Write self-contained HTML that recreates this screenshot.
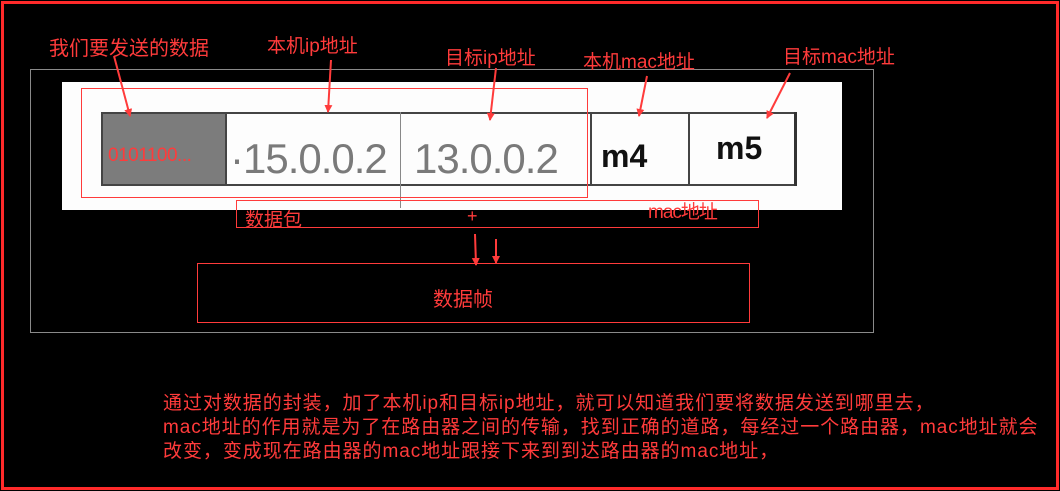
<!DOCTYPE html>
<html><head><meta charset="utf-8"><style>
body{margin:0;background:#000;width:1060px;height:491px;overflow:hidden;position:relative;font-family:"Liberation Sans","Noto Sans CJK SC",sans-serif}
.a{position:absolute}
.t{position:absolute;color:#ff3b3b;white-space:nowrap}
</style></head><body>
<div class="a" style="left:1px;top:1px;width:1052px;height:483px;border:3px solid #ff2a2a"></div>
<div class="a" style="left:30px;top:69px;width:842px;height:262px;border:1px solid #8a8a8a"></div>
<div class="a" style="left:62px;top:82px;width:780px;height:128px;background:#fdfdfd"></div>
<div class="a" style="left:101px;top:112px;width:695px;height:74px;border-top:2px solid #444;border-bottom:2px solid #444;box-sizing:border-box"></div>
<div class="a" style="left:101px;top:112px;width:126px;height:74px;background:#7c7c7c;border:2px solid #444;box-sizing:border-box"></div>
<div class="a" style="left:400px;top:112px;width:1px;height:96px;background:#888"></div>
<div class="a" style="left:590px;top:112px;width:2px;height:74px;background:#444"></div>
<div class="a" style="left:688px;top:112px;width:2px;height:74px;background:#444"></div>
<div class="a" style="left:794px;top:112px;width:3px;height:74px;background:#333"></div>
<div class="t" style="left:108px;top:145px;font-size:19px;letter-spacing:-0.5px">0101100...</div>
<div class="a" style="left:230px;top:135px;font-size:42px;color:#7a7a7a;letter-spacing:-1px">·15.0.0.2</div>
<div class="a" style="left:414px;top:135px;font-size:42px;color:#7a7a7a;letter-spacing:-1px">13.0.0.2</div>
<div class="a" style="left:601px;top:138px;font-size:32px;font-weight:bold;color:#111">m4</div>
<div class="a" style="left:716px;top:130px;font-size:32px;font-weight:bold;color:#111">m5</div>
<div class="a" style="left:81px;top:88px;width:505px;height:108px;border:1px solid #ff3b3b"></div>
<div class="a" style="left:236px;top:200px;width:521px;height:26px;border:1px solid #ff3b3b"></div>
<div class="t" style="left:245px;top:205px;font-size:19px">数据包</div>
<div class="t" style="left:648px;top:197px;font-size:19px;letter-spacing:-1px">mac地址</div>
<div class="t" style="left:467px;top:206px;font-size:18px">+</div>
<div class="a" style="left:197px;top:263px;width:551px;height:58px;border:1px solid #ff3b3b"></div>
<div class="t" style="left:433px;top:283px;font-size:20px">数据帧</div>
<div class="t" style="left:49px;top:32px;font-size:20px">我们要发送的数据</div>
<div class="t" style="left:267px;top:31px;font-size:19px">本机ip地址</div>
<div class="t" style="left:445px;top:43px;font-size:19px">目标ip地址</div>
<div class="t" style="left:583px;top:47px;font-size:19px">本机mac地址</div>
<div class="t" style="left:783px;top:42px;font-size:19px">目标mac地址</div>
<svg class="a" style="left:0;top:0" width="1060" height="491">
<defs><marker id="m" markerWidth="8" markerHeight="10" refX="7" refY="5" orient="auto" markerUnits="userSpaceOnUse"><path d="M0,1 L8,5 L0,9 Z" fill="#ff3b3b"/></marker></defs>
<g stroke="#ff3b3b" stroke-width="2" marker-end="url(#m)">
<line x1="114" y1="56" x2="130" y2="116"/>
<line x1="331" y1="60" x2="328" y2="112"/>
<line x1="496" y1="68" x2="490" y2="120"/>
<line x1="647" y1="76" x2="639" y2="116"/>
<line x1="790" y1="73" x2="767" y2="118"/>
<line x1="475" y1="234" x2="476" y2="265"/>
<line x1="496" y1="239" x2="496" y2="263"/>
</g></svg>
<div class="t" style="left:163px;top:392px;font-size:19px;line-height:24px;letter-spacing:0.95px">通过对数据的封装，加了本机ip和目标ip地址，就可以知道我们要将数据发送到哪里去，<br>mac地址的作用就是为了在路由器之间的传输，找到正确的道路，每经过一个路由器，mac地址就会<br>改变，变成现在路由器的mac地址跟接下来到到达路由器的mac地址，</div>
</body></html>
